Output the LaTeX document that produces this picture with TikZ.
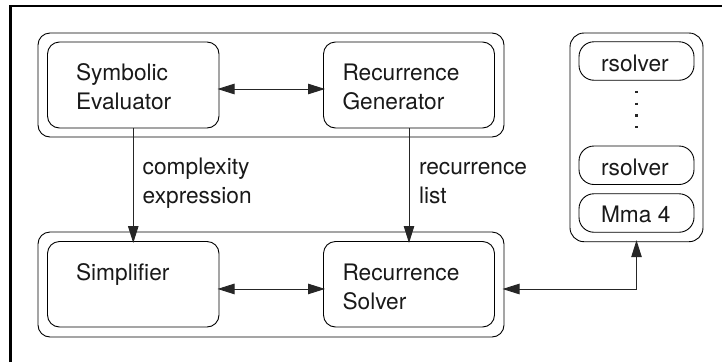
\documentclass[tikz,border=0pt]{standalone}
\usepackage{fontspec}
\setmainfont{TeX Gyre Heros}
\usetikzlibrary{arrows.meta}
\tikzset{
  x=1pt,y=-1pt,
  boxshape/.style={draw=black,line width=0.9pt,rounded corners=12pt,inner sep=0pt,outer sep=0pt,fill=none},
  pillshape/.style={boxshape,rounded corners=15pt,minimum width=115pt,minimum height=38.5pt},
  label/.style={anchor=base west,inner sep=0pt,outer sep=0pt,font=\fontsize{22.7}{29}\selectfont,text=black!90},
  conn/.style={draw=black!85,line width=0.9pt,shorten >=-1.5pt,-{Triangle[length=17pt,width=10.5pt]}},
  biconn/.style={draw=black!85,line width=0.9pt,shorten >=-1.5pt,shorten <=-1.5pt,{Triangle[length=17pt,width=10.5pt]}-{Triangle[length=17pt,width=10.5pt]}}
}
\begin{document}
\begin{tikzpicture}
\useasboundingbox (0,0) rectangle (722,362);
% page frame (top and left only)
\draw[line width=2.8pt,black] (10.5,362) -- (10.5,6) -- (722,6);
% outer boxes
\node[boxshape,minimum width=466pt,minimum height=104pt] (otop) at (271,85) {};
\node[boxshape,minimum width=466pt,minimum height=105pt] (obot) at (271,284.5) {};
\node[boxshape,rounded corners=14pt,minimum width=133pt,minimum height=208.7pt] (oright) at (636.5,137.35) {};
% inner boxes
\node[boxshape,minimum width=171.5pt,minimum height=86pt] (se) at (133.25,85) {};
\node[boxshape,minimum width=171pt,minimum height=86pt] (rg) at (409,85) {};
\node[boxshape,minimum width=171.5pt,minimum height=85.5pt] (simp) at (133.25,284.25) {};
\node[boxshape,minimum width=171pt,minimum height=85.5pt] (rs) at (409,284.25) {};
\node[pillshape] (r1) at (636.5,61) {};
\node[pillshape] (r2) at (636.5,165.25) {};
\node[pillshape] (mma) at (636.5,213) {};
% labels
\node[label] (t1) at (76,80) {Symbolic};
\node[label] (t2) at (76,109) {Evaluator};
\node[label] (t3) at (342.5,80) {Recurrence};
\node[label] (t4) at (342.5,109) {Generator};
\node[label] (t5) at (76,280) {Simplifier};
\node[label] (t6) at (342.5,280) {Recurrence};
\node[label] (t7) at (342.5,309) {Solver};
\node[label] (t8) at (142.7,174) {complexity};
\node[label] (t9) at (142.7,203.5) {expression};
\node[label] (t10) at (419,174) {recurrence};
\node[label] (t11) at (419,203.5) {list};
\node[label] (t12) at (601,71) {rsolver};
\node[label] (t13) at (601,175) {rsolver};
\node[label] (t14) at (601,222.7) {Mma 4};
% connectors
\draw[biconn] ([yshift=-4pt]se.east) -- ([yshift=-4pt]rg.west);
\draw[biconn] ([yshift=-4.7pt]simp.east) -- ([yshift=-4.7pt]rs.west);
\draw[conn] (se.south) -- (simp.north);
\draw[conn] (rg.south) -- (rs.north);
\draw[biconn] ([yshift=-4.5pt]obot.east) -| (oright.south);
% vertical dots
\draw[line width=2.2pt,black!85,dash pattern=on 2.4pt off 9.4pt] ([yshift=-10.5pt]r1.south) -- ([yshift=18pt]r2.north);
\end{tikzpicture}
\end{document}
